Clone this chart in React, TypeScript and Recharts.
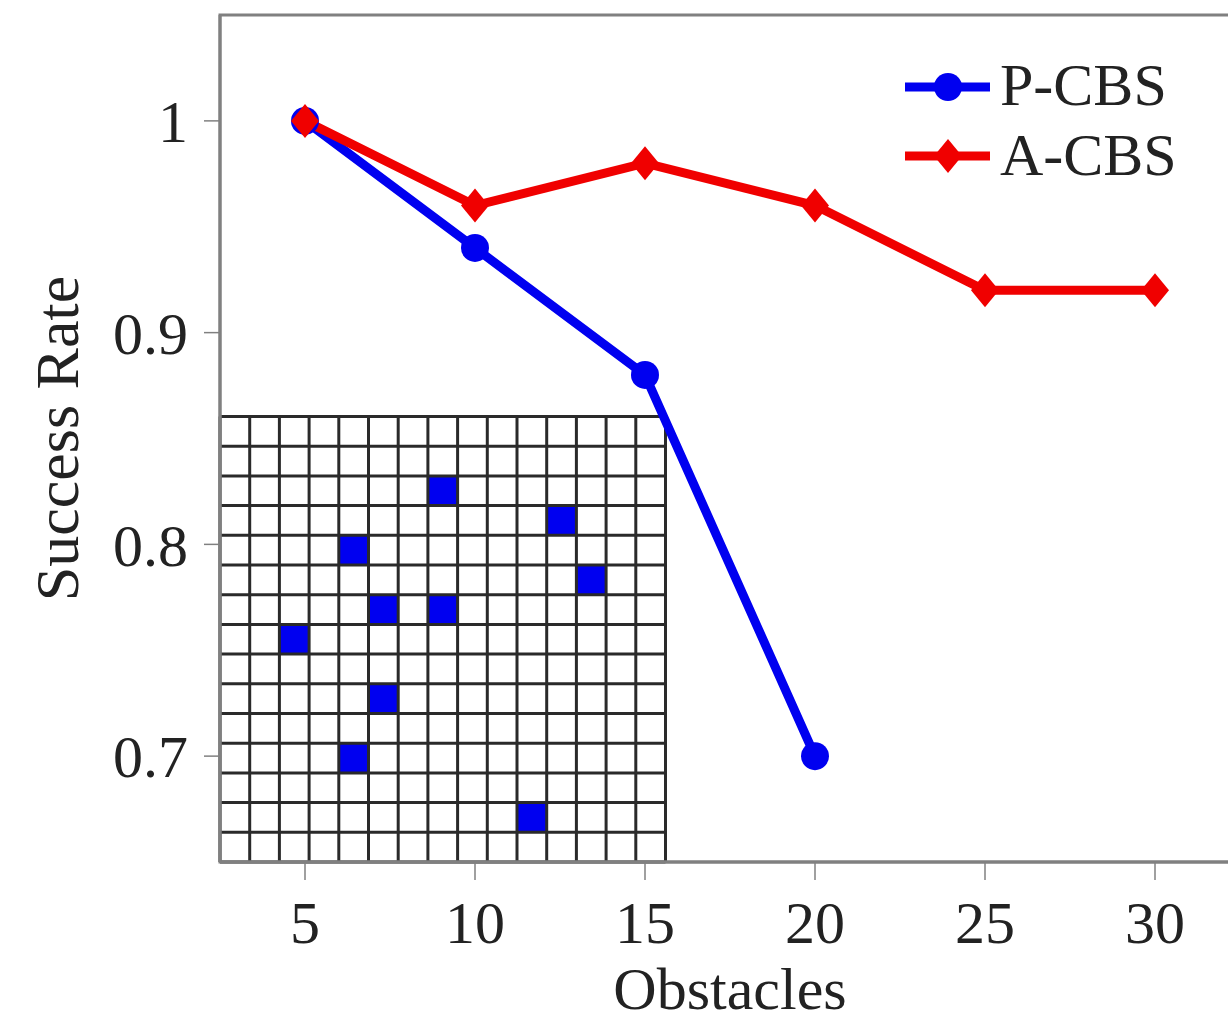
import React from 'react';
import { LineChart, Line, XAxis, YAxis, ReferenceArea, Legend, Customized } from 'recharts';

// obstacles on x, success rate on y
const obstacles = [5, 10, 15, 20, 25, 30];
const pcbsRate = [1, 0.94, 0.88, 0.7];
const acbsRate = [1, 0.96, 0.98, 0.96, 0.92, 0.92];
const xTicks = [5, 10, 15, 20, 25, 30];
const yTicks = [0.7, 0.8, 0.9, 1];

// inset map: 15x15 cells, blocked cells as [col, row] from top-left
const mapSize = 15;
const blockedCells = [
  [7, 2], [11, 3], [4, 4], [12, 5], [5, 6], [7, 6],
  [2, 7], [5, 9], [4, 11], [10, 13],
];

const BLUE = '#0000f0';
const RED = '#f00000';
const AXIS = '#808080';
const FONT = '"Liberation Serif", "DejaVu Serif", serif';

const chartData = obstacles.map((o, i) => ({
  obstacles: o,
  pcbs: i < pcbsRate.length ? pcbsRate[i] : null,
  acbs: acbsRate[i],
}));

const CircleDot = (props: any) => {
  const { cx, cy } = props;
  if (cx == null || cy == null) return null;
  return <circle cx={cx} cy={cy} r={14} fill={BLUE} />;
};

const DiamondDot = (props: any) => {
  const { cx, cy } = props;
  if (cx == null || cy == null) return null;
  return (
    <polygon
      points={`${cx},${cy - 17} ${cx + 14},${cy} ${cx},${cy + 17} ${cx - 14},${cy}`}
      fill={RED}
    />
  );
};

// the obstacle map drawn in the lower-left corner of the plot
const InsetMap = () => {
  const left = 220;
  const bottom = 862;
  const cell = 29.7;
  const size = cell * mapSize;
  const top = bottom - size;
  const lines = [];
  for (let i = 0; i <= mapSize; i++) {
    lines.push(
      <line key={'v' + i} x1={left + i * cell} x2={left + i * cell} y1={top} y2={bottom} stroke="#2a2a2a" strokeWidth={3} />
    );
    lines.push(
      <line key={'h' + i} x1={left} x2={left + size} y1={top + i * cell} y2={top + i * cell} stroke="#2a2a2a" strokeWidth={3} />
    );
  }
  return (
    <g>
      <rect x={left} y={top} width={size} height={size} fill="#fff" />
      {blockedCells.map(([c, r]) => (
        <rect key={`${c}-${r}`} x={left + c * cell} y={top + r * cell} width={cell} height={cell} fill={BLUE} />
      ))}
      {lines}
    </g>
  );
};

const LegendContent = () => (
  <svg width={340} height={160} style={{ display: 'block' }}>
    <line x1={25} x2={110} y1={47} y2={47} stroke={BLUE} strokeWidth={9} />
    <circle cx={68} cy={47} r={14} fill={BLUE} />
    <text x={120} y={65} fontSize={60} fontFamily={FONT} fill="#222">P-CBS</text>
    <line x1={25} x2={110} y1={116} y2={116} stroke={RED} strokeWidth={9} />
    <polygon points={`68,${116 - 17} 82,116 68,${116 + 17} 54,116`} fill={RED} />
    <text x={120} y={135} fontSize={60} fontFamily={FONT} fill="#222">A-CBS</text>
  </svg>
);

const YLabel = (props: any) => {
  const { viewBox } = props;
  const cy = viewBox.y + viewBox.height / 2;
  const x = 78;
  return (
    <text
      x={x}
      y={cy}
      transform={`rotate(-90 ${x} ${cy})`}
      textAnchor="middle"
      fontSize={62}
      fontFamily={FONT}
      fill="#222"
    >
      Success Rate
    </text>
  );
};

export default function App() {
  return (
    <div style={{ position: 'absolute', left: 0, top: 0, width: 1228, height: 1023, overflow: 'hidden', background: '#fff' }}>
      <LineChart
        width={1262}
        height={1023}
        data={chartData}
        margin={{ top: 15, right: 22, bottom: 0, left: 0 }}
      >
        <ReferenceArea
          x1={2.5}
          x2={32.5}
          y1={0.65}
          y2={1.05}
          fill="none"
          stroke={AXIS}
          strokeWidth={3}
          fillOpacity={0}
        />
        <XAxis
          type="number"
          dataKey="obstacles"
          domain={[2.5, 32.5]}
          ticks={xTicks}
          height={161}
          tickSize={18}
          tickMargin={20}
          axisLine={{ stroke: AXIS, strokeWidth: 3 }}
          tickLine={{ stroke: AXIS, strokeWidth: 1.5 }}
          tick={{ fontSize: 60, fontFamily: FONT, fill: '#222' }}
          label={{ value: 'Obstacles', position: 'insideBottom', offset: 14, fontSize: 60, fontFamily: FONT, fill: '#222' }}
        />
        <YAxis
          type="number"
          domain={[0.65, 1.05]}
          ticks={yTicks}
          width={220}
          tickSize={16}
          tickMargin={16}
          axisLine={{ stroke: AXIS, strokeWidth: 3 }}
          tickLine={{ stroke: AXIS, strokeWidth: 1.5 }}
          tick={{ fontSize: 60, fontFamily: FONT, fill: '#222' }}
          label={<YLabel />}
        />
        <Customized component={InsetMap} />
        <Legend
          layout="vertical"
          align="center"
          verticalAlign="middle"
          wrapperStyle={{ position: 'absolute', left: 880, top: 40, width: 340, height: 160 }}
          content={() => <LegendContent />}
        />
        <Line
          type="linear"
          dataKey="pcbs"
          stroke={BLUE}
          strokeWidth={9}
          dot={<CircleDot />}
          activeDot={false}
          isAnimationActive={false}
        />
        <Line
          type="linear"
          dataKey="acbs"
          stroke={RED}
          strokeWidth={9}
          dot={<DiamondDot />}
          activeDot={false}
          isAnimationActive={false}
        />
      </LineChart>
    </div>
  );
}
